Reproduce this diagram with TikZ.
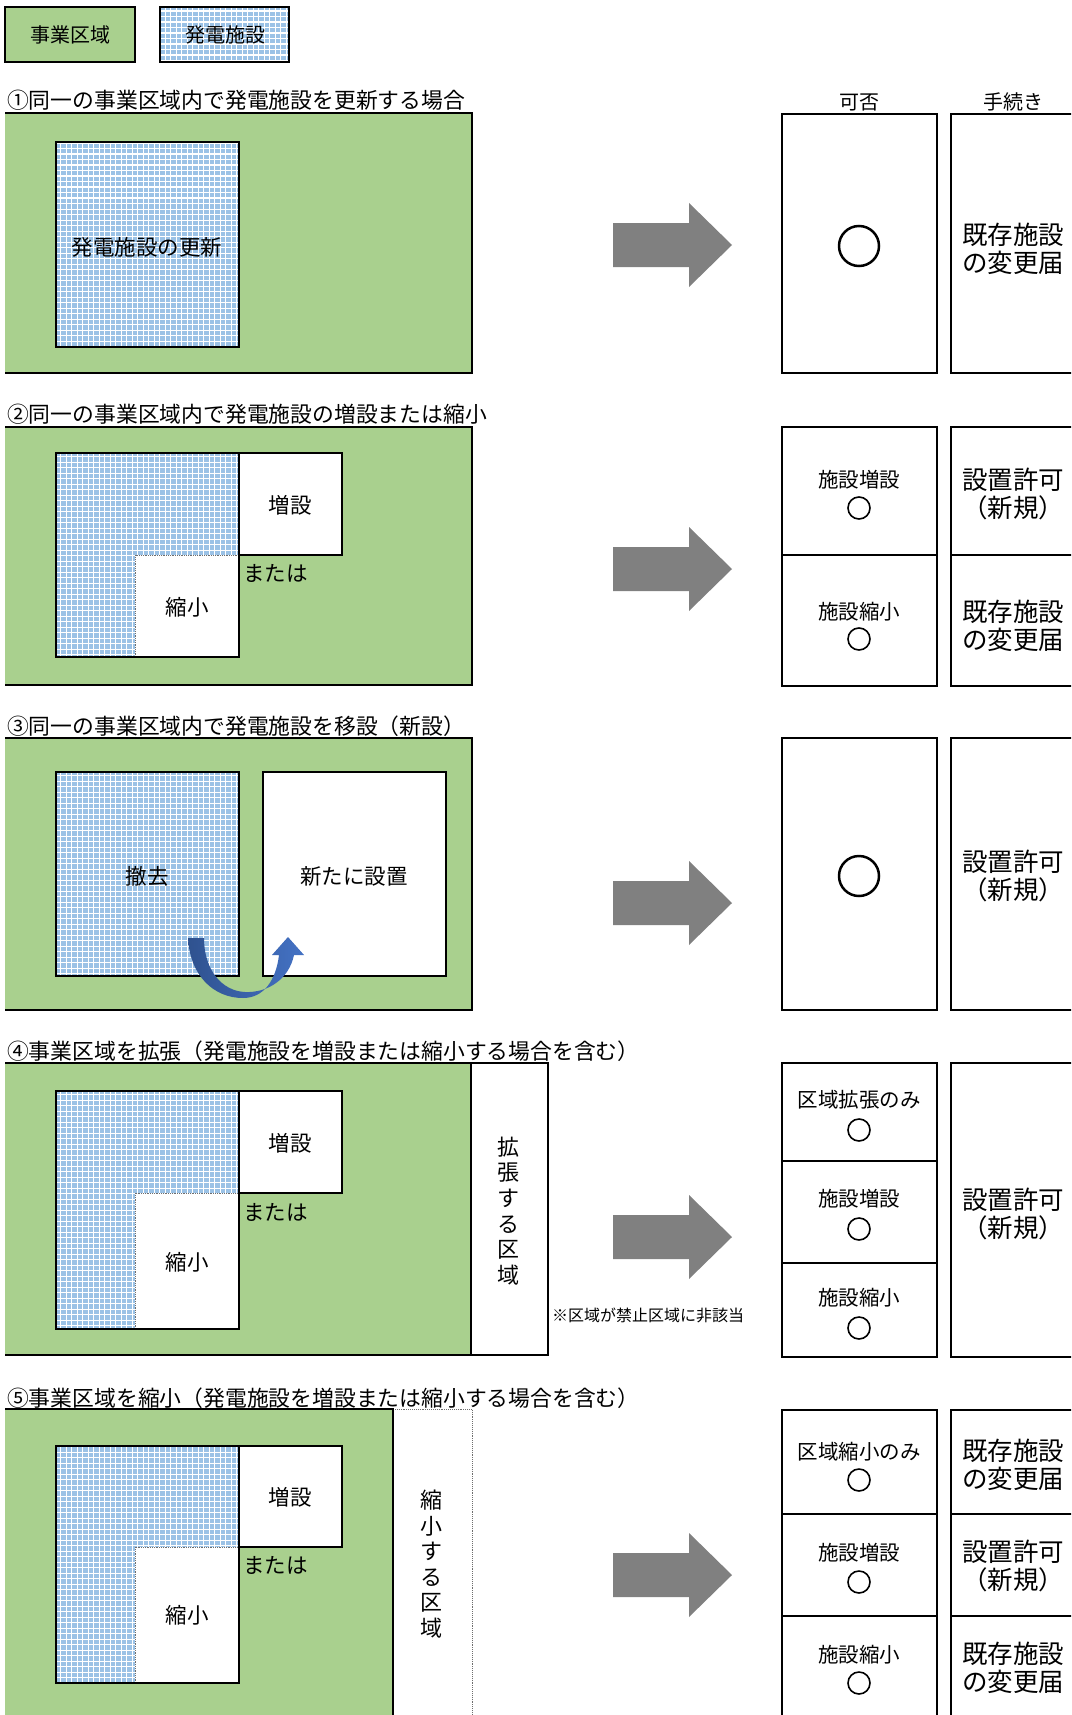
\documentclass[tikz,border=0pt]{standalone}
\usepackage{fontspec}
\setmainfont{Noto Sans CJK JP}
\definecolor{areagreen}{RGB}{169,208,142}
\definecolor{panelblue}{RGB}{155,194,230}
\definecolor{arrowgray}{RGB}{128,128,128}
\definecolor{darkblue}{RGB}{47,82,143}
\definecolor{midblue}{RGB}{68,114,196}
\definecolor{dotgray}{RGB}{110,110,110}
\newcommand\fsTitle{\fontsize{21.8}{26}\selectfont}
\newcommand\fsBox{\fontsize{21.5}{26}\selectfont}
\newcommand\fsLeg{\fontsize{20}{24}\selectfont}
\newcommand\fsHead{\fontsize{20}{24}\selectfont}
\newcommand\fsProc{\fontsize{25.5}{27.5}\selectfont}
\newcommand\fsCell{\fontsize{20.5}{24}\selectfont}
\newcommand\fsVert{\fontsize{22}{25.6}\selectfont}
\newcommand\fsNote{\fontsize{16}{20}\selectfont}
\tikzset{
  bline/.style={draw=black, line width=2.8pt},
  cellbox/.style={draw=black, line width=2.3pt},
  lbl/.style={inner sep=0pt, font=\fsBox},
  ttl/.style={inner sep=0pt, anchor=west, font=\fsTitle},
  proc/.style={inner sep=0pt, anchor=west, align=left, font=\fsProc},
  celltxt/.style={inner sep=0pt, font=\fsCell},
  bigok/.style={draw=black, circle, line width=2.5pt, minimum size=40pt, inner sep=0pt},
  smallok/.style={draw=black, circle, line width=1.6pt, minimum size=22pt, inner sep=0pt},
  vtxt/.style={inner sep=0pt, align=center, font=\fsVert},
}
% blue gridded panel
\newcommand\panel[4]{%
  \fill[panelblue] (#1,#2) rectangle (#3,#4);
  \begin{scope}
    \clip (#1,#2) rectangle (#3,#4);
    \draw[white, line width=0.45pt, step=5.5pt] (#1,#2) grid (#3,#4);
    \draw[white, line width=1.0pt, step=11pt] (#1,#2) grid (#3,#4);
  \end{scope}}
% green area with black top/right/bottom
\newcommand\greenarea[4]{%
  \fill[areagreen] (#1,#2) rectangle (#3,#4);
  \draw[bline] (#1,#2) -- (#3,#2) -- (#3,#4) -- (#1,#4);}
% L-shaped facility with 増設 / 縮小 boxes
\newcommand\lfacility[3]{%
  \panel{56}{#1}{239}{#3}
  \fill[white] (239,#1) rectangle (342,#2);
  \fill[white] (135,#2) rectangle (239,#3);
  \draw[dotgray, line width=0.8pt, densely dotted] (135,#3) -- (135,#2) -- (239,#2);
  \draw[bline] (239,#2) -- (342,#2) -- (342,#1) -- (56,#1) -- (56,#3) -- (239,#3) -- (239,#1);}
\newcommand\blockarrow[1]{%
  \fill[arrowgray] (613,#1-22) -- (689,#1-22) -- (689,#1-42) -- (732,#1) -- (689,#1+42) -- (689,#1+22) -- (613,#1+22) -- cycle;}
\begin{document}
\begin{tikzpicture}[x=1pt,y=-1pt]
\useasboundingbox (0,0) rectangle (1071,1715);
\clip (0,0) rectangle (1071,1715);
\fill[white] (0,0) rectangle (1071,1715);

% ---------- legend ----------
\fill[areagreen] (5,7) rectangle (135,62);
\draw[bline] (5,7) rectangle (135,62);
\node[inner sep=0pt, font=\fsLeg] (legA) at (70,35) {事業区域};
\panel{160}{7}{289}{62}
\draw[bline] (160,7) rectangle (289,62);
\node[inner sep=0pt, font=\fsLeg] (legB) at (225,35) {発電施設};

% ---------- headers ----------
\node[inner sep=0pt, font=\fsHead] (hA) at (859,102) {可否};
\node[inner sep=0pt, font=\fsHead] (hB) at (1013,102) {手続き};

% ---------- section 1 ----------
\node[ttl] (t1) at (7,100) {①同一の事業区域内で発電施設を更新する場合};
\greenarea{5}{113}{472}{373}
\panel{56}{142}{239}{347}
\draw[bline] (56,142) rectangle (239,347);
\node[lbl] (s1a) at (147,247) {発電施設の更新};
\blockarrow{245}
\draw[cellbox] (782,114) rectangle (937,373);
\draw[cellbox] (951,114) rectangle (1090,373);
\node[bigok] (ok1) at (859,246) {};
\node[proc] (p1) at (962,249) {既存施設\\の変更届};

% ---------- section 2 ----------
\node[ttl] (t2) at (7,414) {②同一の事業区域内で発電施設の増設または縮小};
\greenarea{5}{427}{472}{685}
\lfacility{453}{555}{657}
\node[lbl] (s2a) at (290,505) {増設};
\node[lbl, anchor=west] (s2b) at (243,573) {または};
\node[lbl] (s2c) at (187,607) {縮小};
\blockarrow{569}
\draw[cellbox] (782,427) rectangle (937,686);
\draw[cellbox] (782,555) -- (937,555);
\draw[cellbox] (951,427) rectangle (1090,686);
\draw[cellbox] (951,555) -- (1090,555);
\node[celltxt] (c2a) at (859,480) {施設増設};
\node[smallok] (ok2a) at (859,508) {};
\node[celltxt] (c2b) at (859,612) {施設縮小};
\node[smallok] (ok2b) at (859,639) {};
\node[proc] (p2a) at (962,494) {設置許可\\（新規）};
\node[proc] (p2b) at (962,626) {既存施設\\の変更届};

% ---------- section 3 ----------
\node[ttl] (t3) at (7,726) {③同一の事業区域内で発電施設を移設（新設）};
\greenarea{5}{738}{472}{1010}
\panel{56}{772}{239}{976}
\draw[bline] (56,772) rectangle (239,976);
\fill[white] (263,772) rectangle (446,976);
\draw[bline] (263,772) rectangle (446,976);
\node[lbl] (s3a) at (147,876) {撤去};
\node[lbl] (s3b) at (354,876) {新たに設置};
\shade[left color=darkblue, right color=midblue]
  (188,938) .. controls (190,976) and (214,998) .. (243,998)
  .. controls (264,998) and (276,980) .. (279,955)
  -- (272,955) -- (288,937) -- (304,955) -- (294,955)
  .. controls (289,979) and (268,993) .. (245,992)
  .. controls (222,991) and (204,970) .. (204,938) -- cycle;
\blockarrow{903}
\draw[cellbox] (782,738) rectangle (937,1010);
\draw[cellbox] (951,738) rectangle (1090,1010);
\node[bigok] (ok3) at (859,876) {};
\node[proc] (p3) at (962,876) {設置許可\\（新規）};

% ---------- section 4 ----------
\node[ttl] (t4) at (7,1051) {④事業区域を拡張（発電施設を増設または縮小する場合を含む）};
\greenarea{5}{1063}{471}{1355}
\fill[white] (471,1063) rectangle (548,1355);
\draw[bline] (471,1063) rectangle (548,1355);
\lfacility{1091}{1193}{1329}
\node[lbl] (s4a) at (290,1143) {増設};
\node[lbl, anchor=west] (s4b) at (243,1212) {または};
\node[lbl] (s4c) at (187,1262) {縮小};
\node[vtxt] (v4) at (508,1211) {拡\\張\\す\\る\\区\\域};
\node[inner sep=0pt, anchor=west, font=\fsNote] (note4) at (552,1315) {※区域が禁止区域に非該当};
\blockarrow{1237}
\draw[cellbox] (782,1063) rectangle (937,1357);
\draw[cellbox] (782,1161) -- (937,1161);
\draw[cellbox] (782,1263) -- (937,1263);
\draw[cellbox] (951,1063) rectangle (1090,1357);
\node[celltxt] (c4a) at (859,1100) {区域拡張のみ};
\node[smallok] (ok4a) at (859,1130) {};
\node[celltxt] (c4b) at (859,1199) {施設増設};
\node[smallok] (ok4b) at (859,1229) {};
\node[celltxt] (c4c) at (859,1298) {施設縮小};
\node[smallok] (ok4c) at (859,1328) {};
\node[proc] (p4) at (962,1214) {設置許可\\（新規）};

% ---------- section 5 ----------
\node[ttl] (t5) at (7,1398) {⑤事業区域を縮小（発電施設を増設または縮小する場合を含む）};
\fill[areagreen] (5,1409) rectangle (393,1730);
\draw[dotgray, line width=0.9pt, densely dotted] (393,1409) -- (472,1409) -- (472,1730);
\draw[bline] (5,1409) -- (393,1409) -- (393,1730);
\lfacility{1446}{1547}{1683}
\node[lbl] (s5a) at (290,1497) {増設};
\node[lbl, anchor=west] (s5b) at (243,1565) {または};
\node[lbl] (s5c) at (187,1615) {縮小};
\node[vtxt] (v5) at (431,1564) {縮\\小\\す\\る\\区\\域};
\blockarrow{1575}
\draw[cellbox] (782,1410) rectangle (937,1740);
\draw[cellbox] (782,1514) -- (937,1514);
\draw[cellbox] (782,1616) -- (937,1616);
\draw[cellbox] (951,1410) rectangle (1090,1740);
\draw[cellbox] (951,1514) -- (1090,1514);
\draw[cellbox] (951,1616) -- (1090,1616);
\node[celltxt] (c5a) at (859,1452) {区域縮小のみ};
\node[smallok] (ok5a) at (859,1480) {};
\node[celltxt] (c5b) at (859,1553) {施設増設};
\node[smallok] (ok5b) at (859,1582) {};
\node[celltxt] (c5c) at (859,1655) {施設縮小};
\node[smallok] (ok5c) at (859,1683) {};
\node[proc] (p5a) at (962,1465) {既存施設\\の変更届};
\node[proc] (p5b) at (962,1566) {設置許可\\（新規）};
\node[proc] (p5c) at (962,1668) {既存施設\\の変更届};
\end{tikzpicture}
\end{document}
